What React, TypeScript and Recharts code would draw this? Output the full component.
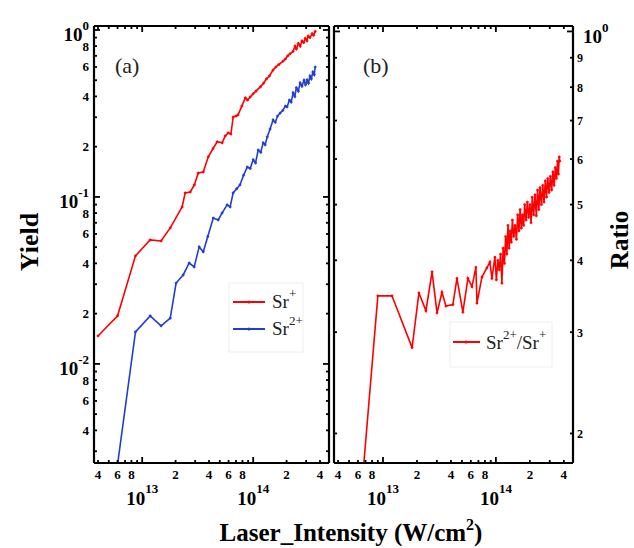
import React from 'react';
import { LineChart, Line, XAxis, YAxis } from 'recharts';

const FONT = "'Liberation Serif', 'Times New Roman', serif";

// Intensity axis (W/cm^2)
const intensityTicks = [4e12, 5e12, 6e12, 7e12, 8e12, 9e12, 1e13, 2e13, 3e13, 4e13, 5e13, 6e13, 7e13, 8e13, 9e13, 1e14, 2e14, 3e14, 4e14];
const intensityLabels = ['4', '', '6', '', '8', '', '10^13', '2', '', '4', '', '6', '', '8', '', '10^14', '2', '', '4'];

// Yield axis
const yieldTicks = [0.003, 0.004, 0.005, 0.006, 0.007, 0.008, 0.009, 0.01, 0.02, 0.03, 0.04, 0.05, 0.06, 0.07, 0.08, 0.09, 0.1, 0.2, 0.3, 0.4, 0.5, 0.6, 0.7, 0.8, 0.9, 1];
const yieldLabels = ['', '4', '', '6', '', '8', '', '10^-2', '2', '', '4', '', '6', '', '8', '', '10^-1', '2', '', '4', '', '6', '', '8', '', '10^0'];

// Ratio axis
const ratioTicks = [0.2, 0.3, 0.4, 0.5, 0.6, 0.7, 0.8, 0.9, 1];
const ratioLabels = ['2', '3', '4', '5', '6', '7', '8', '9', '10^0'];

// Sr+ yield
const srPlusX = [4.0e12, 6.0e12, 8.7e12, 1.18e13, 1.48e13, 1.79e13, 2.29e13, 2.44e13, 2.71e13, 2.95e13, 3.2e13, 3.55e13, 3.94e13, 4.35e13, 4.74e13, 5.25e13, 5.6e13, 5.95e13, 6.3e13, 6.6e13, 7.0e13, 7.3e13, 7.9e13, 8.5e13, 8.9e13, 9.4e13, 1.0e14, 1.06e14, 1.16e14, 1.24e14, 1.32e14, 1.4e14, 1.51e14, 1.6e14, 1.7e14, 1.86e14, 1.95e14, 2.05e14, 2.15e14, 2.29e14, 2.38e14, 2.45e14, 2.55e14, 2.65e14, 2.75e14, 2.85e14, 2.95e14, 3.05e14, 3.13e14, 3.25e14, 3.4e14, 3.5e14, 3.62e14];
const srPlusY = [0.0147, 0.0194, 0.0444, 0.0553, 0.0545, 0.0652, 0.0871, 0.1057, 0.107, 0.118, 0.139, 0.141, 0.174, 0.195, 0.214, 0.211, 0.232, 0.242, 0.238, 0.301, 0.305, 0.31, 0.35, 0.392, 0.38, 0.397, 0.415, 0.43, 0.456, 0.48, 0.51, 0.53, 0.575, 0.6, 0.62, 0.65, 0.67, 0.7, 0.72, 0.745, 0.8, 0.77, 0.83, 0.8, 0.86, 0.84, 0.89, 0.86, 0.92, 0.9, 0.95, 0.93, 0.98];

// Sr2+ yield
const sr2PlusX = [6.0e12, 8.7e12, 1.18e13, 1.48e13, 1.79e13, 2.02e13, 2.34e13, 2.65e13, 2.94e13, 3.26e13, 3.55e13, 3.9e13, 4.37e13, 4.84e13, 5.25e13, 5.83e13, 6.2e13, 6.6e13, 7.1e13, 7.6e13, 8.2e13, 8.85e13, 9.4e13, 1.0e14, 1.05e14, 1.11e14, 1.17e14, 1.23e14, 1.28e14, 1.34e14, 1.42e14, 1.51e14, 1.58e14, 1.66e14, 1.75e14, 1.85e14, 1.95e14, 2.02e14, 2.12e14, 2.2e14, 2.29e14, 2.37e14, 2.45e14, 2.55e14, 2.65e14, 2.75e14, 2.87e14, 2.96e14, 3.06e14, 3.15e14, 3.25e14, 3.34e14, 3.45e14, 3.55e14, 3.62e14];
const sr2PlusY = [0.0025, 0.01555, 0.0194, 0.0169, 0.0188, 0.0305, 0.0341, 0.0402, 0.0381, 0.0502, 0.0469, 0.058, 0.0748, 0.0728, 0.0802, 0.0896, 0.0871, 0.1057, 0.112, 0.118, 0.135, 0.151, 0.148, 0.167, 0.16, 0.191, 0.185, 0.211, 0.205, 0.229, 0.255, 0.289, 0.28, 0.305, 0.318, 0.33, 0.35, 0.346, 0.38, 0.37, 0.42, 0.4, 0.45, 0.43, 0.482, 0.46, 0.5, 0.47, 0.502, 0.48, 0.53, 0.51, 0.56, 0.54, 0.6];

// Sr2+/Sr+ ratio
const ratioX = [6.0e12, 9.0e12, 1.2e13, 1.81e13, 2.08e13, 2.4e13, 2.72e13, 3.01e13, 3.33e13, 3.61e13, 4.16e13, 4.52e13, 5.1e13, 5.65e13, 6.14e13, 6.65e13, 6.8e13, 7.52e13, 8.32e13, 8.85e13, 9.22e13, 9.8e13, 1.01e14, 1.04e14, 1.07e14, 1.1e14, 1.13e14, 1.16e14, 1.19e14, 1.22e14, 1.25e14, 1.28e14, 1.31e14, 1.34e14, 1.37e14, 1.4e14, 1.44e14, 1.48e14, 1.52e14, 1.56e14, 1.6e14, 1.64e14, 1.68e14, 1.72e14, 1.76e14, 1.8e14, 1.85e14, 1.9e14, 1.95e14, 2.0e14, 2.05e14, 2.1e14, 2.16e14, 2.22e14, 2.28e14, 2.34e14, 2.4e14, 2.46e14, 2.53e14, 2.6e14, 2.67e14, 2.74e14, 2.81e14, 2.88e14, 2.96e14, 3.04e14, 3.12e14, 3.2e14, 3.28e14, 3.36e14, 3.44e14, 3.52e14, 3.58e14, 3.64e14, 3.68e14];
const ratioY = [0.134, 0.347, 0.347, 0.282, 0.351, 0.327, 0.382, 0.324, 0.352, 0.333, 0.335, 0.372, 0.325, 0.372, 0.36, 0.389, 0.337, 0.374, 0.388, 0.397, 0.372, 0.405, 0.37, 0.4, 0.385, 0.41, 0.365, 0.42, 0.395, 0.44, 0.41, 0.46, 0.42, 0.45, 0.43, 0.47, 0.44, 0.46, 0.435, 0.48, 0.45, 0.49, 0.455, 0.48, 0.46, 0.5, 0.47, 0.505, 0.475, 0.5, 0.465, 0.515, 0.48, 0.52, 0.478, 0.53, 0.49, 0.535, 0.5, 0.54, 0.505, 0.55, 0.515, 0.555, 0.525, 0.56, 0.53, 0.57, 0.54, 0.58, 0.555, 0.595, 0.565, 0.605, 0.595];

const RED = '#ff0000';
const BLUE = '#1f3fd1';

const xDomain = [3.68e12, 4.82e14];
const yieldDomain = [0.00255, 1.056];
const ratioDomain = [0.1777, 1.022];

const toPoints = (xs: number[], ys: number[]) => xs.map((x, i) => ({ x, y: ys[i] }));
const srPlusData = toPoints(srPlusX, srPlusY);
const sr2PlusData = toPoints(sr2PlusX, sr2PlusY);
const ratioData = toPoints(ratioX, ratioY);

type Side = 'bottom' | 'top' | 'left' | 'right';

function makeTick(side: Side, ticks: number[], labels: string[], showLabels: boolean, majorLen = 6, minorLen = 3) {
  return (props: any) => {
    const { x, y, payload } = props;
    const v = payload.value;
    const i = ticks.findIndex((t) => Math.abs(t - v) / t < 1e-6);
    const lab = i >= 0 ? labels[i] : '';
    const major = lab.indexOf('^') >= 0;
    const len = major ? majorLen : minorLen;
    let line;
    if (side === 'bottom') line = <line x1={x} y1={y} x2={x} y2={y - len} stroke="#000" strokeWidth={1.8} />;
    else if (side === 'top') line = <line x1={x} y1={y} x2={x} y2={y + len} stroke="#000" strokeWidth={1.8} />;
    else if (side === 'left') line = <line x1={x} y1={y} x2={x + len} y2={y} stroke="#000" strokeWidth={1.8} />;
    else line = <line x1={x} y1={y} x2={x - len} y2={y} stroke="#000" strokeWidth={1.8} />;
    let text = null;
    if (showLabels && lab) {
      if (major) {
        const [base, exp] = lab.split('^');
        if (side === 'bottom') {
          text = (
            <text x={x} y={y + 42} textAnchor="middle" fontFamily={FONT} fontWeight="bold" fontSize={19} fill="#000">
              {base}
              <tspan dy={-12} fontSize={13}>{exp}</tspan>
            </text>
          );
        } else if (side === 'left') {
          text = (
            <text x={x - 5} y={y + 11} textAnchor="end" fontFamily={FONT} fontWeight="bold" fontSize={19} fill="#000">
              {base}
              <tspan dy={-11} fontSize={13}>{exp}</tspan>
            </text>
          );
        } else if (side === 'right') {
          text = (
            <text x={x + 10} y={y + 12} textAnchor="start" fontFamily={FONT} fontWeight="bold" fontSize={19} fill="#000">
              {base}
              <tspan dy={-11} fontSize={13}>{exp}</tspan>
            </text>
          );
        }
      } else {
        if (side === 'bottom') {
          text = (
            <text x={x} y={y + 16} textAnchor="middle" fontFamily={FONT} fontWeight="bold" fontSize={13} fill="#000">{lab}</text>
          );
        } else if (side === 'left') {
          text = (
            <text x={x - 5} y={y + 4.5} textAnchor="end" fontFamily={FONT} fontWeight="bold" fontSize={13} fill="#000">{lab}</text>
          );
        } else if (side === 'right') {
          text = (
            <text x={x + 4} y={y + 4.5} textAnchor="start" fontFamily={FONT} fontWeight="bold" fontSize={12} fill="#000">{lab}</text>
          );
        }
      }
    }
    return (
      <g>
        {line}
        {text}
      </g>
    );
  };
}

const axisLine = { stroke: '#000', strokeWidth: 2.2 };

function Panel(props: {
  left: number;
  right: number;
  yDomain: number[];
  yTicks: number[];
  yLabels: string[];
  yLabelSide: 'left' | 'right';
  series: { data: { x: number; y: number }[]; color: string; name: string }[];
}) {
  const { left, right, yDomain, yTicks, yLabels, yLabelSide, series } = props;
  return (
    <div style={{ position: 'absolute', left: 0, top: 0 }}>
      <LineChart width={634} height={548} margin={{ top: 25, bottom: 84, left: left - 1, right: right - 1 }}>
        <XAxis
          xAxisId="b"
          type="number"
          dataKey="x"
          scale="log"
          domain={xDomain}
          allowDataOverflow
          ticks={intensityTicks}
          interval={0}
          orientation="bottom"
          height={1}
          tickSize={0}
          tickMargin={0}
          axisLine={axisLine}
          tickLine={false}
          tick={makeTick('bottom', intensityTicks, intensityLabels, true)}
        />
        <XAxis
          xAxisId="t"
          type="number"
          dataKey="x"
          scale="log"
          domain={xDomain}
          allowDataOverflow
          ticks={intensityTicks}
          interval={0}
          orientation="top"
          height={1}
          tickSize={0}
          tickMargin={0}
          axisLine={axisLine}
          tickLine={false}
          tick={makeTick('top', intensityTicks, intensityLabels, false)}
        />
        <YAxis
          yAxisId="l"
          type="number"
          dataKey="y"
          scale="log"
          domain={yDomain}
          allowDataOverflow
          ticks={yTicks}
          interval={0}
          orientation="left"
          width={1}
          tickSize={0}
          tickMargin={0}
          axisLine={axisLine}
          tickLine={false}
          tick={makeTick('left', yTicks, yLabels, yLabelSide === 'left')}
        />
        <YAxis
          yAxisId="r"
          type="number"
          dataKey="y"
          scale="log"
          domain={yDomain}
          allowDataOverflow
          ticks={yTicks}
          interval={0}
          orientation="right"
          width={1}
          tickSize={0}
          tickMargin={0}
          axisLine={axisLine}
          tickLine={false}
          tick={makeTick('right', yTicks, yLabels, yLabelSide === 'right')}
        />
        {series.map((s) => (
          <Line
            key={s.name}
            xAxisId="b"
            yAxisId="l"
            data={s.data}
            dataKey="y"
            name={s.name}
            type="linear"
            stroke={s.color}
            strokeWidth={1.6}
            dot={{ r: 1.1, fill: s.color, stroke: s.color, strokeWidth: 0.6 }}
            isAnimationActive={false}
          />
        ))}
      </LineChart>
    </div>
  );
}

export default function App() {
  return (
    <div style={{ position: 'absolute', left: 0, top: 0, width: 634, height: 548, background: '#fff', overflow: 'hidden' }}>
      <Panel
        left={94}
        right={305}
        yDomain={yieldDomain}
        yTicks={yieldTicks}
        yLabels={yieldLabels}
        yLabelSide="left"
        series={[
          { data: srPlusData, color: RED, name: 'Sr+' },
          { data: sr2PlusData, color: BLUE, name: 'Sr2+' },
        ]}
      />
      <Panel
        left={334}
        right={61}
        yDomain={ratioDomain}
        yTicks={ratioTicks}
        yLabels={ratioLabels}
        yLabelSide="right"
        series={[{ data: ratioData, color: RED, name: 'Sr2+/Sr+' }]}
      />
      <svg width={634} height={548} style={{ position: 'absolute', left: 0, top: 0, pointerEvents: 'none' }}>
        <text x={115} y={73} fontFamily={FONT} fontSize={22} fill="#222">(a)</text>
        <text x={363} y={73} fontFamily={FONT} fontSize={22} fill="#222">(b)</text>

        {/* legend (a) */}
        <rect x={229} y={283} width={74} height={69} fill="#fff" stroke="#eeeeee" strokeWidth={1} />
        <line x1={233} y1={302} x2={265} y2={302} stroke={RED} strokeWidth={2} />
        <circle cx={249} cy={302} r={1.6} fill={RED} />
        <text x={272} y={308} fontFamily={FONT} fontSize={19} fill="#222">
          Sr<tspan dy={-10} fontSize={13}>+</tspan>
        </text>
        <line x1={233} y1={329} x2={265} y2={329} stroke={BLUE} strokeWidth={2} />
        <circle cx={249} cy={329} r={1.6} fill={BLUE} />
        <text x={272} y={335} fontFamily={FONT} fontSize={19} fill="#222">
          Sr<tspan dy={-10} fontSize={13}>2+</tspan>
        </text>

        {/* legend (b) */}
        <rect x={450} y={322} width={102} height={45} fill="#fff" stroke="#eeeeee" strokeWidth={1} />
        <line x1={453} y1={342} x2={480} y2={342} stroke={RED} strokeWidth={2} />
        <circle cx={466} cy={342} r={1.6} fill={RED} />
        <text x={486} y={349} fontFamily={FONT} fontSize={19} fill="#222">
          Sr<tspan dy={-10} fontSize={13}>2+</tspan>
          <tspan dy={10} fontSize={19}>/Sr</tspan>
          <tspan dy={-10} fontSize={13}>+</tspan>
        </text>

        {/* axis titles */}
        <text x={29} y={242} transform="rotate(-90, 29, 242)" textAnchor="middle" dominantBaseline="central" fontFamily={FONT} fontWeight="bold" fontSize={26} fill="#000">Yield</text>
        <text x={619} y={240} transform="rotate(-90, 619, 240)" textAnchor="middle" dominantBaseline="central" fontFamily={FONT} fontWeight="bold" fontSize={25} fill="#000">Ratio</text>
        <text x={351} y={541} textAnchor="middle" fontFamily={FONT} fontWeight="bold" fontSize={25} fill="#000">
          Laser_Intensity (W/cm<tspan dy={-11} fontSize={16}>2</tspan><tspan dy={11} fontSize={25}>)</tspan>
        </text>
      </svg>
    </div>
  );
}
